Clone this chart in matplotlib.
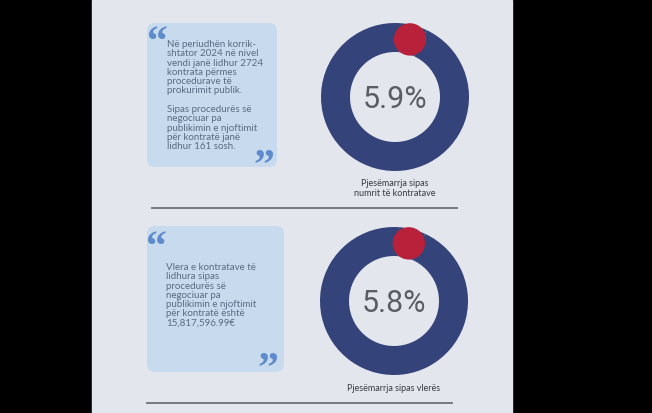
import matplotlib
matplotlib.use("Agg")
import matplotlib.pyplot as plt
from matplotlib.patches import FancyBboxPatch, Rectangle, Circle
import numpy as np

# ------------------------------
#   Data
# ------------------------------
shares = [5.9, 5.8]
share_labels = ["5.9%", "5.8%"]
captions = ["Pjesëmarrja sipas\nnumrit të kontratave", "Pjesëmarrja sipas vlerës"]
box_texts = [
    "Në periudhën korrik-\nshtator 2024 në nivel\nvendi janë lidhur 2724\n"
    "kontrata përmes\nprocedurave të\nprokurimit publik.\n\n"
    "Sipas procedurës së\nnegociuar pa\npublikimin e njoftimit\n"
    "për kontratë janë\nlidhur 161 sosh.",
    "Vlera e kontratave të\nlidhura sipas\nprocedurës së\nnegociuar pa\n"
    "publikimin e njoftimit\npër kontratë është\n15,817,596.99€",
]

# ------------------------------
#   Layout (pixels)
# ------------------------------
W, H = 652, 413
PANEL = "#e4e6ed"
BOX = "#c8dbee"
QUOTE = "#5d8bcb"
TEXT = "#5a6a82"
NAVY = "#34437a"
RED = "#b9203a"

boxes = [(147, 23, 130, 144), (147, 226, 137, 146)]
box_text_pos = [(167, 40), (166, 263)]
open_quote = [(147, 25), (146, 230)]
close_quote = [(253, 148), (257, 351)]
rings = [(395, 97), (394, 301)]
R, r_in = 74, 45
caption_y = [179, 384]
sep = [(152, 457, 208), (147, 452, 403)]

plt.rcParams["font.family"] = ["Lato", "DejaVu Sans"]

fig = plt.figure(figsize=(W / 100, H / 100), dpi=100)
fig.patch.set_facecolor("black")
ax = fig.add_axes([0, 0, 1, 1])
ax.set_xlim(0, W)
ax.set_ylim(H, 0)
ax.axis("off")

ax.add_patch(Rectangle((92, 0), 420, H, color=PANEL, zorder=0))

for i in range(2):
    x, y, w, h = boxes[i]
    ax.add_patch(FancyBboxPatch((x + 8, y + 8), w - 16, h - 16,
                                boxstyle="round,pad=8", fc=BOX, ec="none", zorder=1))
    ax.text(*box_text_pos[i], box_texts[i], fontsize=7.0, color=TEXT,
            va="top", ha="left", linespacing=1.04, zorder=2)
    ax.text(*open_quote[i], "\u201c", fontsize=30, fontweight="bold", color=QUOTE,
            family="Liberation Serif", va="top", ha="left", zorder=2)
    ax.text(*close_quote[i], "\u201d", fontsize=30, fontweight="bold", color=QUOTE,
            family="Liberation Serif", va="top", ha="left", zorder=2)

    x0, x1, ys = sep[i]
    ax.plot([x0, x1], [ys, ys], color="#6e7078", lw=1.3, zorder=2)

    cx, cy = rings[i]
    ax.text(cx, caption_y[i], captions[i], fontsize=6.5, color="#3a3b42",
            ha="center", va="top", linespacing=1.2)

    # donut
    dax = fig.add_axes([(cx - R) / W, 1 - (cy + R) / H, 2 * R / W, 2 * R / H])
    wedges, _ = dax.pie([shares[i], 100 - shares[i]], colors=[NAVY, NAVY],
                        startangle=86, counterclock=False, radius=1,
                        wedgeprops=dict(width=(R - r_in) / R, linewidth=0))
    t1, t2 = wedges[0].theta1, wedges[0].theta2
    mid = np.deg2rad((t1 + t2) / 2)
    rm = 1 - (R - r_in) / R / 2
    dax.add_patch(Circle((rm * np.cos(mid), rm * np.sin(mid)), 15.5 / R,
                         color=RED, zorder=3))
    dax.text(0, -0.03, share_labels[i], fontsize=22, fontweight="normal",
             family="Roboto", color="#5a5d65", ha="center", va="center")
    dax.set_xlim(-1, 1)
    dax.set_ylim(-1, 1)
    dax.axis("off")

fig.savefig("out.png", dpi=100, facecolor="black")
